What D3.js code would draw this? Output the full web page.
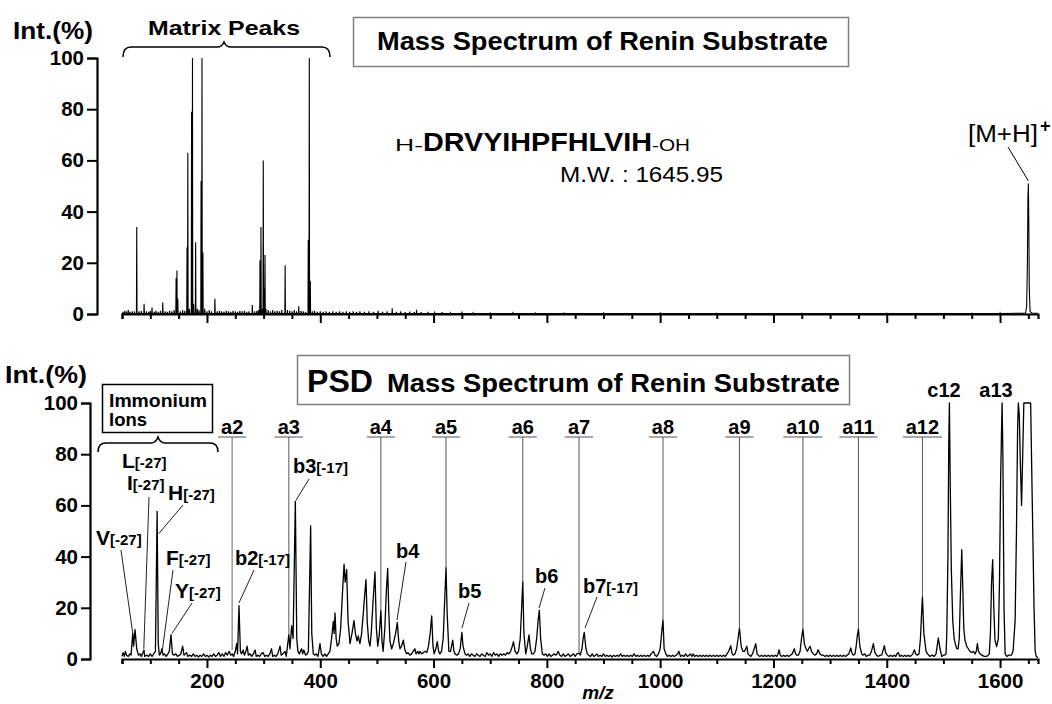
<!DOCTYPE html>
<html><head><meta charset="utf-8">
<script src="https://cdn.jsdelivr.net/npm/d3@7"></script>
<style>
body{margin:0;background:#fff;}
svg text{font-family:"Liberation Sans",Arial,Helvetica,sans-serif;fill:#000;}
</style></head><body>
<svg id="c" width="1052" height="704"></svg>
<script>
// ---------------- DATA ----------------
const xMinorTicks = [50,100,150,200,250,300,350,400,450,500,550,600,650,700,750,800,850,900,950,1000,1050,1100,1150,1200,1250,1300,1350,1400,1450,1500,1550,1600,1650];
const xTickLabels = [200,400,600,800,1000,1200,1400,1600];
const yTicks = [0,20,40,60,80,100];

// top panel: MALDI spectrum, [m/z, Int %]
const topPeaks = [
[52,0.8],[55,1.2],[58,0.6],[61,1.5],[64,0.8],[68,1],[72,0.6],[76,34],[80,1],[84,1.2],[89,4],[93,1],[97,0.8],[100,1.2],[103,2.5],[107,0.8],[110,1.2],[114,0.8],[118,1.2],[122,4.5],[126,1],[130,0.8],[134,1.2],[138,1],[142,1.5],
[145.5,14],[147,17],[148.5,6],[153,1],[157,1.5],[161,1.2],[164.8,26],[166.2,63],[169,2],[172.8,79],[174.4,100],[176.5,4],[180,28],[183,2],[186,1.5],[189.6,52],[191.2,100],[192.8,24],[196,2],[200,1],[204,1.5],[208,1],[214,6],[218,1],[222,1.2],[226,1],[230,0.8],[234,1.2],[238,1],[242,0.8],[246,1.2],[250,1],[254,0.8],[258,1.2],[262,1],[266,1.2],[270,0.8],[274,1],[280,3.5],[284,1],[288,1.2],[291,1.5],
[293.6,21],[295.3,34],[297,2],[299.4,60],[301,10],[302.4,23],[304,2],[308,1.5],[312,1],[316,1.5],[320,1],[324,1.2],[328,1],[332,1.5],[338,19],[342,1.5],[346,1.2],[350,1],[354,1.5],[358,1],[362,3],[366,1.2],[370,1],[374,0.8],
[378.8,29],[380.6,100],[382.4,13],[386,1],[390,1.2],[395,0.8],[400,1],[405,0.8],[410,1],[416,0.8],[422,1],[428,0.8],[434,1],[440,0.8],[446,1],[452,0.8],[458,1],[464,0.8],[470,1],[478,0.8],[486,1],[494,0.8],[502,1.2],[510,0.8],[518,1],[527,2.2],[534,0.8],[542,1],[550,0.7],[558,0.9],[566,0.7],[570,1.6],[578,0.7],[590,0.8],[602,0.6],[615,0.7],[630,0.5],[650,0.6],[670,0.5],[700,0.4],[740,0.5],[780,0.4],[830,0.4],[900,0.4],[1000,0.4],[1100,0.3],[1250,0.3],[1400,0.3],[1550,0.3],[1600,0.5]
];
const mhProfile = [[1645,0.3],[1647,3],[1648.3,20],[1649.2,45],[1650,51],[1650.8,35],[1651.6,10],[1653,1],[1656,0.3],[1667,0.3]];

// bottom panel: PSD spectrum profile, [m/z, Int %]
const psdProfile = [
[50,1],[52,2.5],[54,1],[56,3],[58,1.5],[61,1],[64,2],[66,1.5],[69,10],[70.5,5],[73,11.5],[76,4],[79,1.5],[82,2],[84,1],[86,2],[88.8,3.5],[90,1],[94,1.5],[97,1],[100,2],[103,1],[106,2],[109,3],[112,57.7],[114,6],[116,1.5],[118,2],[120.5,4],[122.5,1.5],[125,2],[128,1],[131,2],[133.5,3],[136.5,9.5],[139,2],[142,1.5],[145,2],[148,1],[151,1.5],[154,2],[157,5],[159.5,1.5],[162,2],[164,2.5],[166,1],[170,1.5],[173,1],[176,2],[179,1],[182,1.5],[185,0.8],[188,1.5],[191,1],[194,2],[197,1],[200,1.5],[203,0.8],[206,1.5],[209,1],[212,2],[215,1],[218,1.5],[221,2.5],[224,1],[227,2],[230,1],[233,2.5],[236,1.5],[239,3],[242,1.5],[244.5,2],[247,1],[250,3],[252.4,6],[254,2],[256.5,20.8],[259,3],[261,2],[264,3.5],[266,1.5],[268,2.5],[271,5],[273,1.5],[276,2],[279,1],[282,2],[285,3.5],[287,1],[290,1.5],[293,1],[296,2],[299,2.5],[302,1],[305,1.5],[308,1],[311,2],[314,4],[316,1],[319,1.5],[322,1],[325,2],[329,5],[331,1.5],[334,2],[337.7,3],[340,1],[344.5,9.5],[346.5,4],[349.5,13],[352,8],[356,61.6],[358.5,8],[360.5,3],[363,2],[367,4],[369,2],[371,3.5],[374,1.5],[377,2],[379,3],[383,52],[385,10],[387.7,2],[390,1.5],[393,2],[396,1],[399.5,6],[402,2],[405,1],[408,2],[411,1],[414,2],[417,3],[420,8],[423,14.7],[424.5,10],[426,18],[428,8],[430,5],[433,6],[436,12],[439,25],[442,37],[444,30],[446.6,35],[449,15],[452.5,6],[456,10],[459.5,15],[462,10],[465,7],[467,9],[470,6],[473,10],[476,18],[478,24],[480.7,31],[483,14],[485.5,7],[487.8,5],[490,10],[493,22],[496.6,34],[499,12],[501.5,5],[504,9],[507,19],[509,7],[511,3],[514,12],[516.5,26],[519,35.4],[521,18],[523,7],[526,4],[529,6],[533,10],[536,14.3],[538.5,7],[540.7,4],[543.5,5],[546.6,7.4],[549.5,3.5],[552.5,2],[555,2.5],[558,1.5],[561,2],[564,3],[567,4],[569,2],[572,3],[574,2],[576,3],[579,2],[582,2.5],[585,3],[588,2.5],[591,5],[594,10],[596.7,16.8],[599,5],[601,2],[604,4],[606.6,6.8],[609,3],[611,2],[614,3],[617,8],[620,25],[622,35.7],[624,18],[627,3],[630,3],[633.8,7.4],[636,3],[638,2],[641,1.5],[644,2],[647,4],[650,10.4],[652,5],[655.5,2],[658,1.5],[661,2],
[664,1],[667,2],[670,1.5],[673,1],[676,2],[679,1.5],[682,1],[685,2],[688,1.5],[691,1],[694,2.5],[697,1.5],[700,2],[703,1],[706,2.5],[709,1.5],[712,2],[715,1],[718,2],[721,1.5],[724,2],[727,1.5],[730,2.5],[733,2],[736,3],[739,5],[741,6.8],[744,3],[747,2],[750,3],[753,8],[755.5,20],[757.5,30.2],[759.5,10],[762.7,2],[765.5,5],[768.5,9.4],[771,4],[773.3,2],[776,2],[779,3],[782,8],[784.5,15],[786.7,19],[789,8],[792,2],[795,1.5],[798,2],[801,1],[804,2],[807,1],[810,1.5],[813,2],[816,1.5],[818,2],[820,3],[823,1.5],[826,1],[829,2],[832,1],[835,1.5],[838,2],[841,1],[844,1.5],[847,2],[850,1],[853,2],[856.8,2.3],[859,1.5],[862,4],[864,8],[866,10.4],[869,4],[871.4,2],[874,1.5],[877,1],[880,2],[883,1],[886,1.5],[888,2],[891,1],[894,1.5],[897,1],[900,2],
[903,1],[906,1.5],[909,1],[912,1.5],[915,0.8],[918,1.5],[921,1],[924,1.5],[927,1],[930,2],[933,1],[936,1.5],[939,1],[942,1.5],[945,1],[948,1.5],[951,1],[954,2],[957,1],[960,1.5],[963,1],[966,1.5],[969,1],[972,1.5],[975,1],[978,1.5],[981,1],[984,2],[986,2.5],[988,3],[991,1.5],[994,1],[997,2],[1000,4],[1002.5,10],[1005,15.2],[1007,4],[1010,2],[1013,1],[1016,1.5],[1019,1],[1022,1.5],[1025,1],[1028,1.5],[1031,2],[1033,3],[1036,1],[1039,1.5],[1042,1],[1045,2],[1048,1],[1051,1.5],[1053,2],[1056,1],[1058,2],[1061,1],[1064,1.5],[1067,1],[1070,1.5],[1073,1],[1076,1.5],[1079,1],[1082,1.5],[1085,1],[1088,1.5],[1091,1],[1094,1.5],[1097,1],[1100,1.5],[1103,1],[1106,1.5],[1109,1],[1112,1.5],[1115,1],[1118,2],[1121,3],[1124.6,5.2],[1127,2],[1129,1.5],[1132,2],[1135,4],[1137.5,8],[1140,12],[1143,5],[1146,3],[1149,3],[1153,5],[1155,2],[1157.6,1.5],[1160,1],[1163,2],[1166,4],[1168.8,6],[1171,2],[1173,1.5],[1176,1],[1179,1.5],[1182,1],[1185,1.5],[1188,1],[1191,1.5],[1194,1],[1197,1.5],[1200,1],[1203,1.5],[1206,1],[1208,2],[1210,3.6],[1212,1.5],[1215,1],[1218,1.5],[1221,1],[1224,1.5],[1227,1],[1230,1.5],[1233,2],[1236.8,4],[1239,2],[1241,1.5],[1244,1.5],[1247,3],[1249.5,8],[1252,11.7],[1254.5,6],[1257.5,4],[1260,3],[1262,4],[1264.6,5],[1267,3],[1270.4,2],[1273,1.5],[1276,2],[1279,3.6],[1282,2],[1285,1.5],[1288,1.5],[1291,1],[1294,1.5],[1297,1],[1300,1.5],[1303,1],[1306,1.5],[1309,1],[1312,1.5],[1315,1],[1318,1.5],[1321,1],[1324,1.5],[1327,1],[1330,1.5],[1333,2],[1336.5,4.3],[1339,2],[1341,1.5],[1344,2],[1346,5],[1348,9],[1350,11.7],[1352.5,5],[1355.8,2],[1358,1.5],[1361,2],[1364,1],[1367,1.5],[1370,1.5],[1373,3],[1376.4,6],[1379,2.5],[1382,1.5],[1385,1],[1388,1.5],[1391,1.5],[1393,3],[1395.8,5.2],[1398,2.5],[1401,1.5],[1404,1],[1407,1.5],[1410,1],[1413,1.5],[1416,1],[1418,2],[1420.5,2.5],[1423,1],[1426,1.5],[1429,1],[1432,1.5],[1435,1],[1438,1.5],[1441,1],[1444,1.5],[1446,2],[1448.8,3.6],[1451,2],[1454,1.5],[1457,2],[1459.5,8],[1461.5,18],[1463,24.2],[1465.5,10],[1469.4,3],[1472,2],[1476.5,1],[1480,1.5],[1484,1],[1487,2],[1489,5],[1491,8.2],[1494,4],[1497,1],[1500,1.5],[1502,1.5],[1504.7,2],[1506,10],[1508,40],[1509.5,85],[1510.6,100],[1512,70],[1514,35],[1516.5,15],[1519,8],[1521,6],[1523.7,4],[1526,4],[1528,8],[1530,25],[1532.4,42.7],[1534,30],[1536,12],[1538,7.5],[1541,5],[1544,4],[1547,3],[1550,2.5],[1553,3],[1556,2],[1558,3],[1560,6],[1562,3],[1565,2],[1568,1.5],[1572,1],[1576,1],[1579,1.5],[1581,2],[1583,10],[1585,30],[1587,38.8],[1589,20],[1591,7.5],[1594,4.8],[1597,8],[1599,30],[1601,70],[1603.6,100],[1605,80],[1607,20],[1609,2],[1612,1],[1616,1.5],[1620,1.5],[1623,3],[1626.6,15],[1629,50],[1631,90],[1632.3,100],[1634,95],[1636,75],[1638,60],[1640,80],[1642,100],[1654,100],[1657,60],[1660,20],[1662,3],[1664,1],[1667,0.5]
];

// a-ion annotations: name, m/z, line end intensity
const aIonNames = ["a2","a3","a4","a5","a6","a7","a8","a9","a10","a11","a12"];
const aIonMz    = [244.5,344.5,507,622,757.5,856.8,1005,1140,1252,1350,1463];
const aIonInt   = [3.5,9.5,19,35.7,30.2,2.3,15.2,12,11.7,11.7,24.2];

// labelled peaks with leader lines: main label, bracket suffix, peak m/z, peak intensity
const leaderNames = ["V","L","I","H","F","Y","b2","b3","b4","b5","b6","b7"];
const leaderSuffix = ["[-27]","[-27]","[-27]","[-27]","[-27]","[-27]","[-17]","[-17]","","","","[-17]"];
const leaderMz  = [69,null,88.5,115,120.6,138.3,256.5,357.2,535.4,650.2,786.1,867.3];
const leaderInt = [10,null,4,49,2.3,10,21.9,62,15.2,12.1,19.9,12.1];

// ---------------- LAYOUT ----------------
const svg = d3.select("#c");
const FONT = '"Liberation Sans",Arial,Helvetica,sans-serif';
const x = d3.scaleLinear().domain([50,1667]).range([122,1038]);
const yTop = d3.scaleLinear().domain([0,100]).range([314,58]);
const yBot = d3.scaleLinear().domain([0,100]).range([659,403]);

function txt(x0,y0,s,size,weight,anchor,w,style){
  const t = svg.append("text").attr("x",x0).attr("y",y0).attr("font-size",size)
    .attr("font-weight",weight||"bold").attr("text-anchor",anchor||"start").text(s);
  if(style) t.attr("font-style",style);
  if(w) t.attr("textLength",w).attr("lengthAdjust","spacingAndGlyphs");
  return t;
}

function drawXAxis(yPix, labels){
  const ax = d3.axisBottom(x).tickValues(xMinorTicks).tickSizeOuter(0).tickSize(5)
    .tickFormat(d => (labels && xTickLabels.includes(d)) ? d : "");
  const g = svg.append("g").attr("transform",`translate(0,${yPix})`).call(ax)
    .attr("font-family",FONT);
  g.select(".domain").attr("stroke-width",2.2);
  g.selectAll(".tick line").attr("stroke-width",2).attr("y2", d => xTickLabels.includes(d) ? 9 : 5);
  g.selectAll(".tick text").attr("font-size",20.5).attr("font-weight","bold").attr("y",29).attr("dy",0);
}
function drawYAxis(xPix, scale, tlen){
  const ax = d3.axisLeft(scale).tickValues(yTicks).tickSizeOuter(0).tickSize(tlen).tickPadding(3);
  const g = svg.append("g").attr("transform",`translate(${xPix},0)`).call(ax).attr("font-family",FONT);
  g.select(".domain").attr("stroke-width",2.2);
  g.selectAll(".tick line").attr("stroke-width",2);
  g.selectAll(".tick text").attr("font-size",20.5).attr("font-weight","bold");
}

// ---------- TOP PANEL ----------
drawYAxis(97, yTop, 10);
const topPts = [[50,0.3]];
topPeaks.forEach(p => { topPts.push([p[0]-0.5,0.2],[p[0],p[1]],[p[0]+0.5,0.2]); });
mhProfile.forEach(p => topPts.push(p));
svg.append("path").datum(topPts)
  .attr("d", d3.line().x(d=>x(d[0])).y(d=>yTop(d[1])))
  .attr("fill","none").attr("stroke","#000").attr("stroke-width",1.1);
drawXAxis(314,false);

txt(13,39,"Int.(%)",24,"bold","start",80);
txt(148,35,"Matrix Peaks",21,"bold","start",152);
svg.append("path").attr("d","M123,57 Q123,47 131,47 L217,47 Q222,47 224,42 Q226,47 231,47 L322,47 Q330,47 330,57")
  .attr("fill","none").attr("stroke","#000").attr("stroke-width",1.5);
svg.append("rect").attr("x",353.5).attr("y",17.5).attr("width",495).attr("height",49)
  .attr("fill","none").attr("stroke","#808080").attr("stroke-width",1.5);
txt(377,50,"Mass Spectrum of Renin Substrate",25,"bold","start",451);
txt(395,151,"H-",17,"normal","start",28);
txt(423,151,"DRVYIHPFHLVIH",25,"bold","start",229);
txt(652,151,"-OH",17,"normal","start",38);
txt(560,182,"M.W. : 1645.95",21.5,"normal","start",163);
txt(968,142,"[M+H]",23.5,"normal","start",70);
txt(1040,132,"+",18,"bold","start");
svg.append("line").attr("x1",1008).attr("y1",147).attr("x2",x(1650)).attr("y2",yTop(52))
  .attr("stroke","#000").attr("stroke-width",1);

// ---------- BOTTOM PANEL ----------
drawYAxis(90, yBot, 9);
svg.append("path").datum(psdProfile)
  .attr("d", d3.line().x(d=>x(d[0])).y(d=>yBot(d[1])))
  .attr("fill","none").attr("stroke","#000").attr("stroke-width",1.3).attr("stroke-linejoin","round");
drawXAxis(659,true);

txt(5,383,"Int.(%)",24,"bold","start",82);
svg.append("rect").attr("x",102.5).attr("y",384.5).attr("width",110).attr("height",48)
  .attr("fill","#fff").attr("stroke","#000").attr("stroke-width",1.5);
txt(109,407,"Immonium",18,"bold","start",98);
txt(109,426,"Ions",18,"bold","start",38);
svg.append("path").attr("d","M98,452 Q98,443 106,443 L151,443 Q156,443 158,437 Q160,443 165,443 L210,443 Q218,443 218,452")
  .attr("fill","none").attr("stroke","#000").attr("stroke-width",1.5);

svg.append("rect").attr("x",297.5).attr("y",355.5).attr("width",552).attr("height",49)
  .attr("fill","none").attr("stroke","#808080").attr("stroke-width",1.5);
txt(307,392,"PSD",31,"bold","start",66);
txt(387,392,"Mass Spectrum of Renin Substrate",25,"bold","start",453);

// a-ion lines + labels
aIonNames.forEach((n,i) => {
  const lx = x(aIonMz[i]);
  svg.append("line").attr("x1",lx).attr("x2",lx).attr("y1",437).attr("y2",yBot(aIonInt[i]))
    .attr("stroke", i===0 ? "#a0a0a0" : "#555").attr("stroke-width", i===0 ? 1.6 : 1);
  const t = txt(lx,434,n,20,"bold","middle");
  const w = t.node().getComputedTextLength();
  svg.append("line").attr("x1",lx-w/2-3).attr("x2",lx+w/2+3).attr("y1",437).attr("y2",437)
    .attr("stroke","#555").attr("stroke-width",1);
});
txt(944,397,"c12",20,"bold","middle");
txt(996,397,"a13",20,"bold","middle");

// labelled peaks (label positions are layout only)
const labelPos = {V:[96,545],L:[122,468],I:[127,490],H:[168,500],F:[166,565],Y:[175,598],
  b2:[235,565],b3:[293,473],b4:[396,558],b5:[458,598],b6:[535,583],b7:[583,593]};
const leaderStart = {V:[121,550],I:[149,497],H:[183,505],F:[173,570],Y:[192,603],
  b2:[254,570],b3:[309,479],b4:[406,562],b5:[469,603],b6:[545,588],b7:[597,597]};
leaderNames.forEach((n,i) => {
  const [lx,ly] = labelPos[n];
  const isImm = i < 6;
  const t = svg.append("text").attr("x",lx).attr("y",ly).attr("font-weight","bold");
  t.append("tspan").attr("font-size", isImm ? 21 : 20).text(n);
  if(leaderSuffix[i]) t.append("tspan").attr("font-size", 15).text(leaderSuffix[i]);
  if(leaderMz[i] !== null){
    const s = leaderStart[n];
    svg.append("line").attr("x1",s[0]).attr("y1",s[1]).attr("x2",x(leaderMz[i])).attr("y2",yBot(leaderInt[i]))
      .attr("stroke","#222").attr("stroke-width",1);
  }
});
txt(598,699,"m/z",19,"bold","middle",null,"italic");
</script>
</body></html>
